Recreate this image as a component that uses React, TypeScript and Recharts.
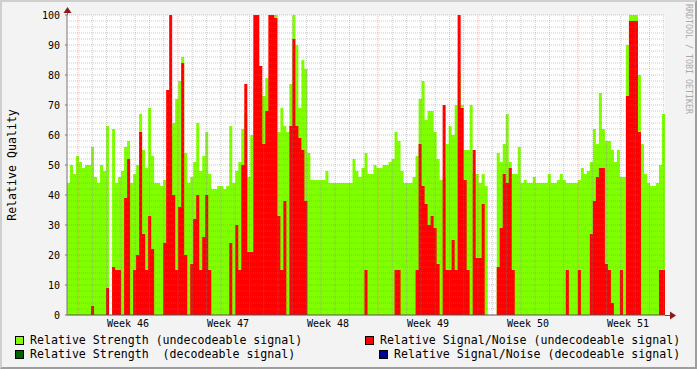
import React from 'react';
import { ComposedChart, Area, XAxis, YAxis, ReferenceLine, CartesianGrid } from 'recharts';

// Relative Strength (undecodeable signal), one value per 3px time slot (null = no data)
const strengthUndecodeable: (number | null)[] = [
  44, 50, 47, 53, 51, 49, 50, 50, 56, 46,
  44, 50, 48, 63, null, 62, 44, 46, 48, 56,
  58, 44, 47, 50, 67, 55, 49, 69, 53, 44,
  44, 43, 45, 50, 60, 64, 72, 78, 86, 54,
  44, 46, 51, 64, 48, 53, 61, 47, 42, 42,
  43, 43, 42, 43, 63, 44, 48, 51, 62, 67,
  46, 60, 78, 74, 76, 73, 79, 78, 80, 100,
  61, 69, 63, 61, 77, 100, 90, 69, 85, 82,
  54, 45, 45, 45, 45, 45, 48, 44, 44, 44,
  44, 44, 44, 44, 44, 52, 48, 46, 49, 54,
  47, 47, 50, 49, 49, 50, 50, 51, 52, 61,
  58, 48, 44, 44, 44, 46, 53, 72, 78, 65,
  68, 68, 61, 52, 45, 46, 57, 63, 60, 70,
  81, 70, 55, 55, 70, 47, 47, 44, 47, 43,
  null, null, null, 54, 51, 57, 67, 51, 47, 47,
  56, 44, 45, 44, 44, 46, 44, 44, 44, 44,
  47, 44, 44, 45, 47, 45, 44, 44, 44, 44,
  45, 49, 47, 48, 51, 62, 57, 74, 62, 58,
  58, 55, 51, 55, 46, 46, 90, 100, 100, 100,
  80, 57, 47, 44, 43, 43, 44, 50, 67,
];

// Relative Signal/Noise (undecodeable signal)
const snrUndecodeable: (number | null)[] = [
  0, 0, 0, 0, 0, 0, 0, 0, 3, 0,
  0, 0, 0, 9, null, 16, 15, 15, 0, 39,
  52, 0, 15, 20, 61, 27, 15, 33, 22, 0,
  0, 0, 24, 75, 100, 40, 15, 36, 84, 20,
  0, 17, 32, 40, 15, 26, 40, 15, 0, 0,
  0, 0, 0, 0, 24, 0, 30, 15, 50, 77,
  21, 21, 100, 100, 83, 57, 68, 100, 100, 99,
  33, 15, 38, 0, 63, 92, 63, 59, 55, 38,
  0, 0, 0, 0, 0, 0, 0, 0, 0, 0,
  0, 0, 0, 0, 0, 0, 0, 0, 0, 15,
  0, 0, 0, 0, 0, 0, 0, 0, 0, 15,
  15, 0, 0, 0, 0, 0, 15, 57, 43, 37,
  30, 33, 29, 17, 0, 70, 15, 15, 25, 15,
  100, 69, 45, 15, 0, 55, 19, 19, 37, 0,
  null, null, null, 16, 29, 47, 44, 49, 15, 0,
  0, 0, 0, 0, 0, 0, 0, 0, 0, 0,
  0, 0, 0, 0, 0, 0, 15, 0, 0, 0,
  15, 0, 0, 0, 27, 38, 46, 49, 49, 17,
  15, 4, 0, 0, 15, 0, 73, 98, 98, 98,
  61, 0, 0, 0, 0, 0, 0, 15, 15,
];

const weekLabels = ['Week 46', 'Week 47', 'Week 48', 'Week 49', 'Week 50', 'Week 51'];
const yTicks = [0, 10, 20, 30, 40, 50, 60, 70, 80, 90, 100];

const FIRST_WEEK_START = 3.66; // slot position of the first week boundary
const WEEK_SLOTS = 33.28;      // slots per week

const legendItems = [
  { label: 'Relative Strength (undecodeable signal)', color: '#80FF00', left: 15, top: 336 },
  { label: 'Relative Signal/Noise (undecodeable signal)', color: '#FF0000', left: 365, top: 336 },
  { label: 'Relative Strength  (decodeable signal)', color: '#006400', left: 15, top: 350 },
  { label: 'Relative Signal/Noise (decodeable signal)', color: '#000090', left: 379, top: 350 },
];

const MONO = "'DejaVu Sans Mono', monospace";

export default function App() {
  const data = strengthUndecodeable.map((s, i) => ({
    t: i,
    strength: s ?? 0,
    snr: snrUndecodeable[i] ?? 0,
  }));
  const last = data[data.length - 1];
  data.push({ t: data.length, strength: last.strength, snr: last.snr });
  const xMax = data.length - 1;

  const weekStarts = weekLabels.map((_, k) => FIRST_WEEK_START + k * WEEK_SLOTS);
  const weekMids = weekStarts.map((w) => w + WEEK_SLOTS / 2);
  const dayLines: number[] = [];
  for (let k = 0; k < 60; k++) {
    const v = FIRST_WEEK_START + (k * WEEK_SLOTS) / 7;
    if (v > xMax) break;
    if (k % 7 !== 0) dayLines.push(v);
  }
  const minorY: number[] = [];
  for (let v = 2; v < 100; v += 2) if (v % 10 !== 0) minorY.push(v);
  const majorY = yTicks.filter((v) => v > 0);

  const minorStroke = 'rgba(130,130,130,0.4)';
  const majorStroke = 'rgba(220,90,90,0.45)';

  return (
    <div style={{ position: 'absolute', left: 0, top: 0, width: 697, height: 369, background: '#F3F3F3', overflow: 'hidden' }}>
      <div style={{ position: 'absolute', left: 0, top: 0 }}>
        <ComposedChart width={697} height={369} data={data} margin={{ top: 15, right: 32, bottom: 34, left: 7 }}>
          <CartesianGrid horizontal={false} vertical={false} fill="#FFFFFF" />
          <XAxis
            dataKey="t"
            type="number"
            domain={[0, xMax]}
            allowDataOverflow
            ticks={weekMids}
            interval={0}
            tickFormatter={(_v: number, i: number) => weekLabels[i]}
            tickLine={false}
            tickSize={0}
            tickMargin={5}
            height={20}
            axisLine={{ stroke: '#555555' }}
            tick={{ fontFamily: MONO, fontSize: 10, fill: '#000000' }}
          />
          <YAxis
            type="number"
            domain={[0, 100]}
            allowDataOverflow
            ticks={yTicks}
            interval={0}
            width={60}
            tickSize={2}
            tickMargin={5}
            axisLine={{ stroke: '#777777' }}
            tickLine={{ stroke: '#777777' }}
            tick={{ fontFamily: MONO, fontSize: 10, fill: '#000000' }}
          />
          <Area
            type="stepAfter"
            dataKey="strength"
            stroke="none"
            fill="#80FF00"
            fillOpacity={1}
            isAnimationActive={false}
            dot={false}
            activeDot={false}
          />
          <Area
            type="stepAfter"
            dataKey="snr"
            stroke="none"
            fill="#FF0000"
            fillOpacity={1}
            isAnimationActive={false}
            dot={false}
            activeDot={false}
          />
          {minorY.map((v) => (
            <ReferenceLine key={'my' + v} y={v} stroke={minorStroke} strokeDasharray="1 1" />
          ))}
          {dayLines.map((v) => (
            <ReferenceLine key={'mx' + v} x={v} stroke={minorStroke} strokeDasharray="1 1" />
          ))}
          {majorY.map((v) => (
            <ReferenceLine key={'My' + v} y={v} stroke={majorStroke} strokeDasharray="1 1" />
          ))}
          {weekStarts.map((v) => (
            <ReferenceLine key={'Mx' + v} x={v} stroke={majorStroke} strokeDasharray="1 1" />
          ))}
        </ComposedChart>
      </div>

      {/* axis arrows */}
      <svg width={697} height={369} style={{ position: 'absolute', left: 0, top: 0, pointerEvents: 'none' }}>
        <line x1={67.5} y1={10} x2={67.5} y2={15} stroke="#777777" />
        <line x1={665} y1={315.5} x2={671} y2={315.5} stroke="#555555" />
        <polygon points="63.5,13 71.5,13 67.5,7" fill="#8B1A1A" />
        <polygon points="670,311.5 670,319.5 676,315.5" fill="#8B1A1A" />
      </svg>

      {/* y title */}
      <div
        style={{
          position: 'absolute',
          left: 12,
          top: 165,
          transform: 'translate(-50%, -50%) rotate(-90deg)',
          fontFamily: MONO,
          fontSize: 11.6,
          color: '#000',
          whiteSpace: 'pre',
          lineHeight: '12px',
        }}
      >
        Relative Quality
      </div>

      {/* watermark */}
      <div
        style={{
          position: 'absolute',
          left: 684,
          top: 4,
          writingMode: 'vertical-rl',
          fontFamily: MONO,
          fontSize: 8.3,
          color: '#AAAAAA',
          whiteSpace: 'pre',
          lineHeight: '9px',
        }}
      >
        RRDTOOL / TOBI OETIKER
      </div>

      {/* legend */}
      {legendItems.map((it) => (
        <React.Fragment key={it.label}>
          <div
            style={{
              position: 'absolute',
              left: it.left,
              top: it.top,
              width: 9,
              height: 9,
              boxSizing: 'border-box',
              border: '1px solid #000',
              background: it.color,
            }}
          />
          <div
            style={{
              position: 'absolute',
              left: it.left + 15,
              top: it.top - 2,
              fontFamily: MONO,
              fontSize: 11.6,
              lineHeight: '13px',
              color: '#000',
              whiteSpace: 'pre',
            }}
          >
            {it.label}
          </div>
        </React.Fragment>
      ))}

      {/* frame shading */}
      <div
        style={{
          position: 'absolute',
          left: 0,
          top: 0,
          width: 697,
          height: 369,
          boxSizing: 'border-box',
          borderTop: '2px solid #CFCFCF',
          borderLeft: '2px solid #CFCFCF',
          borderRight: '2px solid #9E9E9E',
          borderBottom: '2px solid #9E9E9E',
          pointerEvents: 'none',
        }}
      />
    </div>
  );
}
